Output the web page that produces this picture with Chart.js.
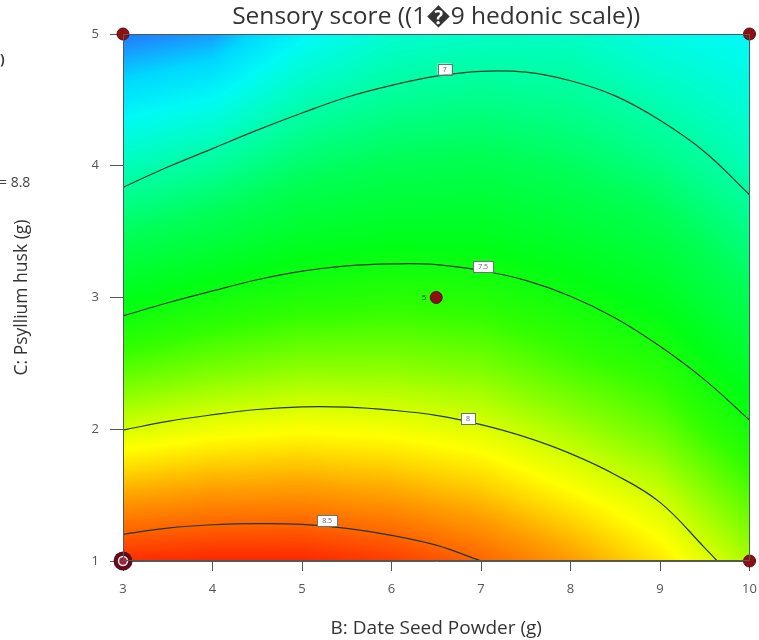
<!DOCTYPE html>
<html>
<head>
<meta charset="utf-8">
<script src="https://cdn.jsdelivr.net/npm/chart.js@4.4.0/dist/chart.umd.min.js"></script>
<style>
  html, body { margin: 0; padding: 0; background: #fff; }
  #wrap { width: 759px; height: 640px; position: relative; }
</style>
</head>
<body>
<div id="wrap"><canvas id="contourChart" width="759" height="640"></canvas></div>
<script>
// predicted sensory score over B (date seed powder) x C (psyllium husk)
var bLevels = [3, 4, 5, 6, 7, 8, 9, 10];
var cLevels = [1, 1.5, 2, 2.5, 3, 3.5, 4, 4.5, 5];
var scoreGrid = [
  [8.65, 8.67, 8.67, 8.61, 8.50, 8.35, 8.16, 7.91],
  [8.32, 8.36, 8.37, 8.33, 8.25, 8.12, 7.98, 7.72],
  [8.00, 8.06, 8.09, 8.07, 8.02, 7.90, 7.77, 7.53],
  [7.71, 7.78, 7.83, 7.83, 7.80, 7.69, 7.59, 7.36],
  [7.43, 7.52, 7.58, 7.61, 7.59, 7.51, 7.41, 7.21],
  [7.18, 7.26, 7.36, 7.40, 7.40, 7.34, 7.25, 7.08],
  [6.95, 7.03, 7.15, 7.21, 7.23, 7.18, 7.09, 6.96],
  [6.74, 6.80, 6.96, 7.04, 7.07, 7.04, 6.96, 6.87],
  [6.55, 6.60, 6.78, 6.89, 6.92, 6.92, 6.83, 6.79]
];
var xTicks = [3, 4, 5, 6, 7, 8, 9, 10];
var yTicks = [1, 2, 3, 4, 5];

// contour traces, one per level
var contour7 = [
  {x: 3, y: 3.836}, {x: 3.5, y: 3.99}, {x: 4, y: 4.13}, {x: 4.5, y: 4.27}, {x: 5, y: 4.40},
  {x: 5.5, y: 4.52}, {x: 6, y: 4.61}, {x: 6.5, y: 4.68}, {x: 7, y: 4.717}, {x: 7.5, y: 4.71},
  {x: 8, y: 4.645}, {x: 8.5, y: 4.53}, {x: 9, y: 4.345}, {x: 9.5, y: 4.105}, {x: 10, y: 3.78}
];
var contour75 = [
  {x: 3, y: 2.86}, {x: 3.5, y: 2.96}, {x: 4, y: 3.05}, {x: 4.5, y: 3.135}, {x: 5, y: 3.20},
  {x: 5.5, y: 3.24}, {x: 6, y: 3.255}, {x: 6.5, y: 3.25}, {x: 7, y: 3.205}, {x: 7.5, y: 3.13},
  {x: 8, y: 3.01}, {x: 8.5, y: 2.845}, {x: 9, y: 2.63}, {x: 9.5, y: 2.375}, {x: 10, y: 2.07}
];
var contour8 = [
  {x: 3, y: 1.994}, {x: 3.5, y: 2.06}, {x: 4, y: 2.11}, {x: 4.5, y: 2.15}, {x: 5, y: 2.17},
  {x: 5.5, y: 2.168}, {x: 6, y: 2.145}, {x: 6.5, y: 2.105}, {x: 7, y: 2.035}, {x: 7.5, y: 1.94},
  {x: 8, y: 1.815}, {x: 8.5, y: 1.655}, {x: 9, y: 1.445}, {x: 9.5, y: 1.10}, {x: 9.64, y: 1.0}
];
var contour85 = [
  {x: 3, y: 1.203}, {x: 3.5, y: 1.25}, {x: 4, y: 1.275}, {x: 4.5, y: 1.283}, {x: 5, y: 1.278},
  {x: 5.5, y: 1.248}, {x: 6, y: 1.195}, {x: 6.5, y: 1.12}, {x: 7, y: 1.0}
];
var contourTags = ['7', '7.5', '8', '8.5'];
var contourTagAt = [{x: 6.594, y: 4.734}, {x: 7.023, y: 3.235}, {x: 6.856, y: 2.078}, {x: 5.281, y: 1.304}];

// design points; the centre point has 5 replicates
var designPoints = [{x: 3, y: 5}, {x: 10, y: 5}, {x: 10, y: 1}, {x: 6.5, y: 3}];
var stackedPoint = [{x: 3, y: 1}];
var centreRuns = '5';

// colour ramp, blue (low) to red (high)
var colourStops = [
  [6.50, [16, 100, 255]],
  [6.58, [30, 140, 255]],
  [6.68, [0, 215, 255]],
  [6.80, [0, 250, 245]],
  [7.00, [0, 255, 165]],
  [7.20, [0, 255, 85]],
  [7.45, [0, 255, 20]],
  [7.65, [50, 255, 0]],
  [7.85, [140, 255, 0]],
  [8.00, [215, 255, 0]],
  [8.10, [255, 255, 0]],
  [8.20, [255, 215, 0]],
  [8.33, [255, 160, 0]],
  [8.50, [255, 100, 0]],
  [8.65, [255, 45, 0]],
  [8.75, [255, 20, 0]]
];

function scoreColour(v) {
  if (v <= colourStops[0][0]) return colourStops[0][1];
  for (var i = 1; i < colourStops.length; i++) {
    if (v <= colourStops[i][0]) {
      var a = colourStops[i - 1], b = colourStops[i];
      var t = (v - a[0]) / (b[0] - a[0]);
      return [a[1][0] + t * (b[1][0] - a[1][0]), a[1][1] + t * (b[1][1] - a[1][1]), a[1][2] + t * (b[1][2] - a[1][2])];
    }
  }
  return colourStops[colourStops.length - 1][1];
}

function findCell(levels, v) {
  var i = 0;
  while (i < levels.length - 2 && v > levels[i + 1]) i++;
  var t = (v - levels[i]) / (levels[i + 1] - levels[i]);
  return [i, Math.max(0, Math.min(1, t))];
}

function scoreAt(b, c) {
  var cx = findCell(bLevels, b), cy = findCell(cLevels, c);
  var i = cx[0], j = cy[0], u = cx[1], w = cy[1];
  var top = scoreGrid[j][i] * (1 - u) + scoreGrid[j][i + 1] * u;
  var bot = scoreGrid[j + 1][i] * (1 - u) + scoreGrid[j + 1][i + 1] * u;
  return top * (1 - w) + bot * w;
}

// paints the response surface under the contour lines
var surfacePlugin = {
  id: 'surface',
  beforeDatasetsDraw: function(chart) {
    var area = chart.chartArea, xs = chart.scales.x, ys = chart.scales.y;
    var w = Math.round(area.right - area.left), h = Math.round(area.bottom - area.top);
    var off = document.createElement('canvas');
    off.width = w; off.height = h;
    var octx = off.getContext('2d');
    var img = octx.createImageData(w, h);
    for (var py = 0; py < h; py++) {
      var c = ys.getValueForPixel(area.top + py + 0.5);
      for (var px = 0; px < w; px++) {
        var b = xs.getValueForPixel(area.left + px + 0.5);
        var rgb = scoreColour(scoreAt(b, c));
        var k = (py * w + px) * 4;
        img.data[k] = rgb[0]; img.data[k + 1] = rgb[1]; img.data[k + 2] = rgb[2]; img.data[k + 3] = 255;
      }
    }
    octx.putImageData(img, 0, 0);
    chart.ctx.drawImage(off, Math.round(area.left), Math.round(area.top));
  },
  afterDatasetsDraw: function(chart) {
    var ctx = chart.ctx, area = chart.chartArea, xs = chart.scales.x, ys = chart.scales.y;
    ctx.save();
    // frame
    ctx.strokeStyle = '#4f5a5a';
    ctx.lineWidth = 1;
    ctx.strokeRect(Math.round(area.left) + 0.5, Math.round(area.top) + 0.5,
      Math.round(area.right - area.left) - 1, Math.round(area.bottom - area.top) - 1);
    // contour level tags
    ctx.font = '7px "Open Sans"';
    ctx.textAlign = 'center';
    ctx.textBaseline = 'middle';
    contourTags.forEach(function(tag, i) {
      var px = xs.getPixelForValue(contourTagAt[i].x);
      var py = ys.getPixelForValue(contourTagAt[i].y);
      var bw = tag.length > 1 ? 20 : 14, bh = 11;
      ctx.fillStyle = '#ffffff';
      ctx.fillRect(px - bw / 2, py - bh / 2, bw, bh);
      ctx.strokeStyle = '#6b7470';
      ctx.strokeRect(Math.round(px - bw / 2) + 0.5, Math.round(py - bh / 2) + 0.5, bw, bh);
      ctx.fillStyle = '#5a6078';
      ctx.fillText(tag, px, py + 0.5);
    });
    // replicate count beside the centre point
    ctx.font = '8px "Open Sans"';
    ctx.fillStyle = '#333';
    ctx.textAlign = 'right';
    ctx.fillText(centreRuns, xs.getPixelForValue(6.5) - 10, ys.getPixelForValue(3) + 0.5);
    ctx.restore();
  },
  afterDraw: function(chart) {
    // clipped legend text at the left edge
    var ctx = chart.ctx;
    ctx.save();
    ctx.font = 'bold 14px "Open Sans"';
    ctx.fillStyle = '#444';
    ctx.textBaseline = 'middle';
    ctx.fillText(')', 0, 60);
    ctx.font = '14px "Open Sans"';
    ctx.fillText('= 8.8', -1, 183);
    ctx.restore();
  }
};

function lineSet(points) {
  return {
    type: 'line',
    data: points,
    borderColor: '#1f3a24',
    borderWidth: 1.2,
    pointRadius: 0,
    tension: 0.4,
    fill: false
  };
}

var ctx = document.getElementById('contourChart').getContext('2d');
window.contourChart = new Chart(ctx, {
  type: 'scatter',
  data: {
    datasets: [
      {
        data: designPoints,
        pointRadius: 6,
        backgroundColor: '#8e1010',
        borderColor: '#5c0a0a',
        borderWidth: 1,
        clip: false
      },
      {
        data: stackedPoint,
        pointRadius: 4.5,
        backgroundColor: '#a3213a',
        borderColor: '#f4e6ea',
        borderWidth: 1.5,
        clip: false
      },
      {
        data: stackedPoint,
        pointRadius: 9.5,
        backgroundColor: '#5e0d1c',
        borderColor: '#5e0d1c',
        borderWidth: 0,
        clip: false
      },
      lineSet(contour7),
      lineSet(contour75),
      lineSet(contour8),
      lineSet(contour85)
    ]
  },
  options: {
    responsive: false,
    animation: false,
    events: [],
    layout: { padding: { left: 0, right: 7, top: 0, bottom: 0 } },
    plugins: {
      legend: { display: false },
      tooltip: { enabled: false },
      title: {
        display: true,
        fullSize: false,
        text: 'Sensory score ((1\uFFFD9 hedonic scale))',
        color: '#333',
        font: { family: 'Open Sans', size: 24.5, weight: 'normal' },
        padding: { top: 2.3, bottom: 2.3 }
      }
    },
    scales: {
      x: {
        type: 'linear',
        min: 3,
        max: 10,
        afterBuildTicks: function(scale) { scale.ticks = xTicks.map(function(v) { return {value: v}; }); },
        afterFit: function(scale) { scale.height = 79; scale.paddingLeft = 0; scale.paddingRight = 0; },
        grid: { drawOnChartArea: false, tickLength: 10, color: '#555', tickColor: '#555' },
        border: { display: true, color: '#555' },
        ticks: { color: '#555', font: { family: 'Open Sans', size: 13 }, padding: 10 },
        title: {
          display: true,
          text: 'B: Date Seed Powder (g)',
          color: '#333',
          font: { family: 'Open Sans', size: 19 },
          padding: { top: 0, bottom: 0 }
        }
      },
      y: {
        type: 'linear',
        min: 1,
        max: 5,
        afterBuildTicks: function(scale) { scale.ticks = yTicks.map(function(v) { return {value: v}; }); },
        afterFit: function(scale) { scale.width = 123; scale.paddingTop = 0; scale.paddingBottom = 0; },
        grid: { drawOnChartArea: false, tickLength: 13, color: '#555', tickColor: '#555' },
        border: { display: true, color: '#555' },
        ticks: { color: '#555', font: { family: 'Open Sans', size: 13 }, padding: 11 },
        title: {
          display: true,
          text: 'C: Psyllium husk (g)',
          color: '#333',
          font: { family: 'Open Sans', size: 17.5 },
          padding: { top: 11.5, bottom: 0 }
        }
      }
    }
  },
  plugins: [surfacePlugin]
});
</script>
</body>
</html>
